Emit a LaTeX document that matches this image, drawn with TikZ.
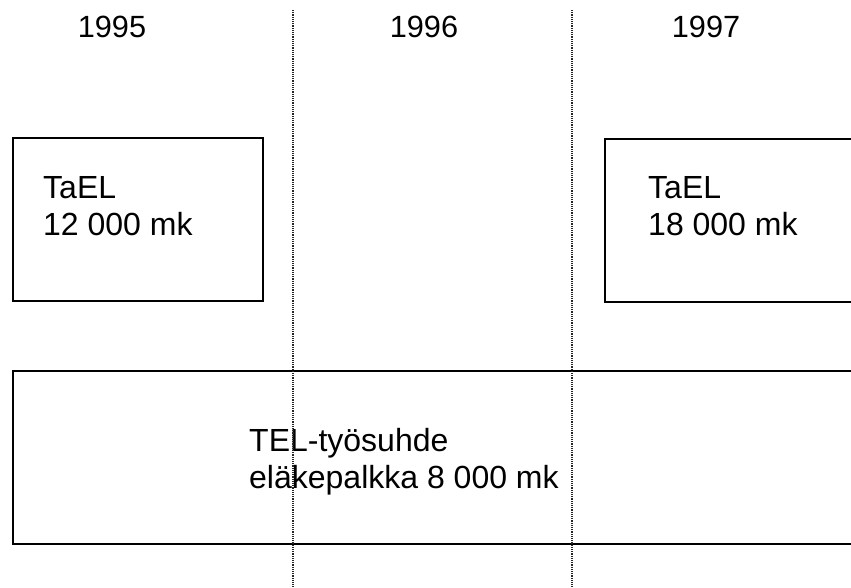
\documentclass[tikz,border=0pt]{standalone}
\usepackage{fontspec}
\setmainfont{Liberation Sans}
\usetikzlibrary{positioning}
\begin{document}
\begin{tikzpicture}[x=1pt, y=-1pt,
    year/.style={anchor=base, inner sep=0pt, font=\fontsize{30.7}{37}\selectfont},
    period/.style={draw, line width=1.8pt, anchor=north west, inner sep=0pt, minimum height=163pt},
    amount/.style={anchor=north west, align=left, inner sep=0pt, font=\fontsize{32}{37}\selectfont},
    divider/.style={line width=1.1pt, black!85, dash pattern=on 1.2pt off 1pt}]
    \clip (0,0) rectangle (851,587);
    % years
    \node[year] (y95) at (112,37) {1995};
    \node[year] (y96) at (424,37) {1996};
    \node[year] (y97) at (706,37) {1997};
    % TaEL periods
    \node[period, minimum width=250pt] (tael95) at (12,137) {};
    \node[period, minimum width=260pt] (tael97) at (604,138) {};
    \node[amount] (tael95txt) at (43,176) {TaEL\\12 000 mk};
    \node[amount] (tael97txt) at (648,176) {TaEL\\18 000 mk};
    % TEL employment
    \node[period, minimum width=860pt, minimum height=173pt] (tel) at (12,370) {};
    \node[amount] (teltxt) at (249,428) {TEL-työsuhde\\eläkepalkka 8 000 mk};
    % year boundaries
    \coordinate (b1top) at (293,10);
    \coordinate (b1bot) at (293,587);
    \coordinate (b2top) at (572,10);
    \coordinate (b2bot) at (572,587);
    \draw[divider] (b1top) -- (b1bot);
    \draw[divider] (b2top) -- (b2bot);
\end{tikzpicture}
\end{document}
